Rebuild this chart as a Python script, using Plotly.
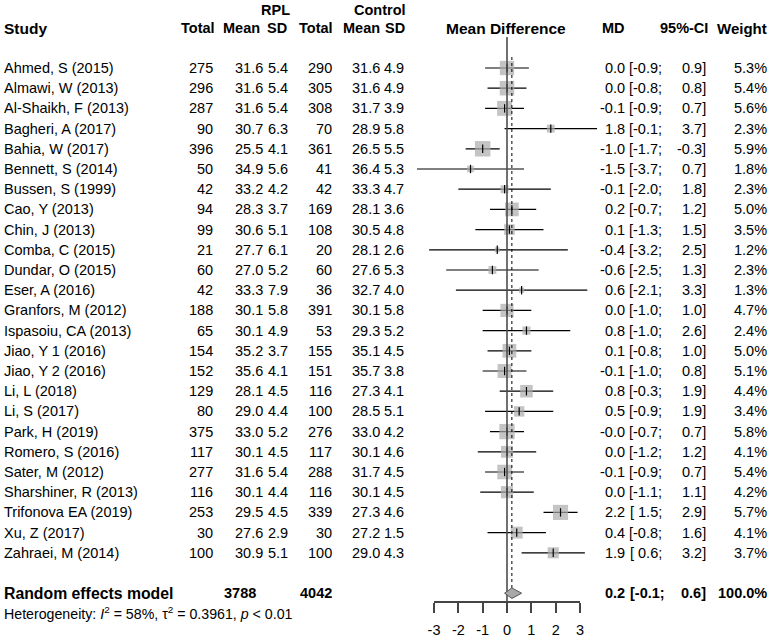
import plotly.graph_objects as go

studies = ["Ahmed, S (2015)", "Almawi, W (2013)", "Al-Shaikh, F (2013)", "Bagheri, A (2017)",
           "Bahia, W (2017)", "Bennett, S (2014)", "Bussen, S (1999)", "Cao, Y (2013)",
           "Chin, J (2013)", "Comba, C (2015)", "Dundar, O (2015)", "Eser, A (2016)",
           "Granfors, M (2012)", "Ispasoiu, CA (2013)", "Jiao, Y 1 (2016)", "Jiao, Y 2 (2016)",
           "Li, L (2018)", "Li, S (2017)", "Park, H (2019)", "Romero, S (2016)",
           "Sater, M (2012)", "Sharshiner, R (2013)", "Trifonova EA (2019)", "Xu, Z (2017)",
           "Zahraei, M (2014)"]
n1 = [275, 296, 287, 90, 396, 50, 42, 94, 99, 21, 60, 42, 188, 65, 154, 152, 129, 80, 375, 117, 277, 116, 253, 30, 100]
m1 = [31.6, 31.6, 31.6, 30.7, 25.5, 34.9, 33.2, 28.3, 30.6, 27.7, 27.0, 33.3, 30.1, 30.1, 35.2, 35.6, 28.1, 29.0, 33.0, 30.1, 31.6, 30.1, 29.5, 27.6, 30.9]
sd1 = [5.4, 5.4, 5.4, 6.3, 4.1, 5.6, 4.2, 3.7, 5.1, 6.1, 5.2, 7.9, 5.8, 4.9, 3.7, 4.1, 4.5, 4.4, 5.2, 4.5, 5.4, 4.4, 4.5, 2.9, 5.1]
n2 = [290, 305, 308, 70, 361, 41, 42, 169, 108, 20, 60, 36, 391, 53, 155, 151, 116, 100, 276, 117, 288, 116, 339, 30, 100]
m2 = [31.6, 31.6, 31.7, 28.9, 26.5, 36.4, 33.3, 28.1, 30.5, 28.1, 27.6, 32.7, 30.1, 29.3, 35.1, 35.7, 27.3, 28.5, 33.0, 30.1, 31.7, 30.1, 27.3, 27.2, 29.0]
sd2 = [4.9, 4.9, 3.9, 5.8, 5.5, 5.3, 4.7, 3.6, 4.8, 2.6, 5.3, 4.0, 5.8, 5.2, 4.5, 3.8, 4.1, 5.1, 4.2, 4.6, 4.5, 4.5, 4.6, 1.5, 4.3]
md = [0.0, 0.0, -0.1, 1.8, -1.0, -1.5, -0.1, 0.2, 0.1, -0.4, -0.6, 0.6, 0.0, 0.8, 0.1, -0.1, 0.8, 0.5, -0.0, 0.0, -0.1, 0.0, 2.2, 0.4, 1.9]
lo = [-0.9, -0.8, -0.9, -0.1, -1.7, -3.7, -2.0, -0.7, -1.3, -3.2, -2.5, -2.1, -1.0, -1.0, -0.8, -1.0, -0.3, -0.9, -0.7, -1.2, -0.9, -1.1, 1.5, -0.8, 0.6]
hi = [0.9, 0.8, 0.7, 3.7, -0.3, 0.7, 1.8, 1.2, 1.5, 2.5, 1.3, 3.3, 1.0, 2.6, 1.0, 0.8, 1.9, 1.9, 0.7, 1.2, 0.7, 1.1, 2.9, 1.6, 3.2]
weight = [5.3, 5.4, 5.6, 2.3, 5.9, 1.8, 2.3, 5.0, 3.5, 1.2, 2.3, 1.3, 4.7, 2.4, 5.0, 5.1, 4.4, 3.4, 5.8, 4.1, 5.4, 4.2, 5.7, 4.1, 3.7]

pooled_n1 = 3788
pooled_n2 = 4042
pooled_md = 0.2
pooled_lo = -0.1
pooled_hi = 0.6
pooled_w = 100.0
xticks = [-3, -2, -1, 0, 1, 2, 3]

W, H = 771, 640
FONT = "Liberation Sans"
FS = 14.5

rows = list(range(1, len(studies) + 1))
pooled_row = len(studies) + 2
het_row = pooled_row + 1

# pixel geometry
x0_px, unit_px = 507.0, 24.33
y0_px, row_px = 68.0, 20.2

fig = go.Figure()

# CI lines
cx, cy = [], []
for r, a, b in zip(rows, lo, hi):
    cx += [a, b, None]
    cy += [r, r, None]
fig.add_trace(go.Scatter(x=cx, y=cy, mode="lines", line=dict(color="black", width=1.2),
                         hoverinfo="skip", showlegend=False))

# squares
sizes = [15.5 * (wt / max(weight)) ** 0.72 for wt in weight]
fig.add_trace(go.Scatter(x=md, y=rows, mode="markers",
                         marker=dict(symbol="square", size=sizes, color="#ababab", line=dict(width=0)),
                         hoverinfo="skip", showlegend=False))
fig.add_trace(go.Scatter(x=md, y=rows, mode="markers",
                         marker=dict(symbol="line-ns", size=6, line=dict(color="black", width=1.2)),
                         hoverinfo="skip", showlegend=False))

# null line and pooled dotted line
top_null = 1 + (37 - y0_px) / row_px
bot_null = 1 + (602 - y0_px) / row_px
fig.add_trace(go.Scatter(x=[0, 0], y=[top_null, bot_null], mode="lines",
                         line=dict(color="#4d4d4d", width=1.6), hoverinfo="skip", showlegend=False))
dh = 0.26
top_dot = 1 + (57 - y0_px) / row_px
fig.add_trace(go.Scatter(x=[pooled_md, pooled_md], y=[top_dot, pooled_row - dh], mode="lines",
                         line=dict(color="black", width=1, dash="dot"), hoverinfo="skip", showlegend=False))

# diamond
fig.add_trace(go.Scatter(x=[pooled_lo, pooled_md, pooled_hi, pooled_md, pooled_lo],
                         y=[pooled_row, pooled_row - dh, pooled_row, pooled_row + dh, pooled_row],
                         mode="lines", fill="toself", fillcolor="#a9a9a9",
                         line=dict(color="#555555", width=1), hoverinfo="skip", showlegend=False))

# dummy trace for the visible axis
fig.add_trace(go.Scatter(x=[-3, 3], y=[pooled_row, pooled_row], xaxis="x2", yaxis="y",
                         mode="markers", marker=dict(opacity=0, size=1), hoverinfo="skip", showlegend=False))

ann = []


def txt(xpx, row, s, anchor="right", bold=False, size=FS):
    if bold:
        s = "<b>" + s + "</b>"
    ann.append(dict(x=xpx / W, y=row, xref="paper", yref="y", text=s, showarrow=False,
                    xanchor=anchor, yanchor="middle", borderpad=0,
                    font=dict(family=FONT, size=size, color="black")))


def f1(v):
    return f"{v:.1f}"


def ci_lo(v):
    s = f1(v)
    return "[" + (s if s.startswith("-") else " " + s) + ";"


# headers
r_top, r_head = -1.88, -0.96
txt(275, r_top, "RPL", anchor="center", bold=True)
txt(380, r_top, "Control", anchor="center", bold=True)
txt(3, r_head, "Study", anchor="left", bold=True, size=15.5)
txt(216, r_head, "Total", bold=True)
txt(261, r_head, "Mean", bold=True)
txt(288, r_head, "SD", bold=True)
txt(334, r_head, "Total", bold=True)
txt(381, r_head, "Mean", bold=True)
txt(406, r_head, "SD", bold=True)
txt(506, r_head, "Mean Difference", anchor="center", bold=True, size=15.5)
txt(626, r_head, "MD", bold=True)
txt(709, r_head, "95%-CI", bold=True)
txt(768, r_head, "Weight", bold=True, size=15)

for i, r in enumerate(rows):
    txt(3, r, studies[i], anchor="left")
    txt(214, r, str(n1[i]))
    txt(264, r, f1(m1[i]))
    txt(289, r, f1(sd1[i]))
    txt(333, r, str(n2[i]))
    txt(381, r, f1(m2[i]))
    txt(405, r, f1(sd2[i]))
    txt(626, r, f1(md[i]))
    txt(663, r, ci_lo(lo[i]))
    txt(707, r, f1(hi[i]) + "]")
    txt(768, r, f"{weight[i]:.1f}%")

txt(3, pooled_row, "Random effects model", anchor="left", bold=True, size=15.8)
txt(257, pooled_row, str(pooled_n1), bold=True)
txt(333, pooled_row, str(pooled_n2), bold=True)
txt(626, pooled_row, f1(pooled_md), bold=True)
txt(666, pooled_row, ci_lo(pooled_lo), bold=True)
txt(707, pooled_row, f1(pooled_hi) + "]", bold=True)
txt(768, pooled_row, f"{pooled_w:.1f}%", bold=True)
txt(3, het_row, "Heterogeneity: <i>I</i><sup>2</sup> = 58%, τ<sup>2</sup> = 0.3961, <i>p</i> &lt; 0.01",
    anchor="left", size=14.2)

xr = [-x0_px / unit_px, (W - x0_px) / unit_px]
yr = [1 + (H - y0_px) / row_px, 1 - y0_px / row_px]

fig.update_layout(
    width=W, height=H, margin=dict(l=0, r=0, t=0, b=0, autoexpand=False),
    paper_bgcolor="white", plot_bgcolor="rgba(0,0,0,0)",
    xaxis=dict(range=xr, domain=[0, 1], visible=False, fixedrange=True),
    xaxis2=dict(range=[-3, 3], domain=[(x0_px - 3 * unit_px) / W, (x0_px + 3 * unit_px) / W],
                anchor="free", position=1 - 602 / H, showline=True, linecolor="#444444", linewidth=1.5,
                ticks="outside", ticklen=10, tickwidth=1.5, tickcolor="#444444",
                tickvals=xticks, ticktext=[str(t) for t in xticks], ticklabelstandoff=5,
                tickfont=dict(family=FONT, size=FS, color="black"),
                showgrid=False, zeroline=False, fixedrange=True),
    yaxis=dict(range=yr, domain=[0, 1], visible=False, fixedrange=True),
    annotations=ann,
    showlegend=False,
)

fig.write_html("out.html", config={"displayModeBar": False},
               post_script="document.body.style.margin='0';document.body.style.overflow='hidden';")
